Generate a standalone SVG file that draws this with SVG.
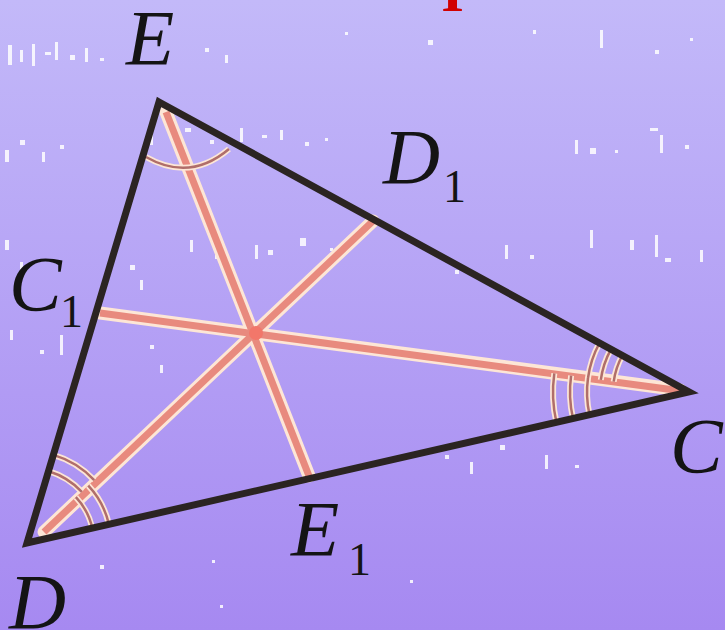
<svg xmlns="http://www.w3.org/2000/svg" width="725" height="630" viewBox="0 0 725 630">
<defs>
<linearGradient id="bg" x1="0" y1="0" x2="0" y2="1">
<stop offset="0" stop-color="#c3b9f9"/>
<stop offset="1" stop-color="#a689f1"/>
</linearGradient>
<style>
.side{stroke:#2b2422;stroke-width:7;fill:none;stroke-linejoin:miter;stroke-linecap:round}
.halo{stroke:#fde6d6;stroke-width:13;fill:none;stroke-linecap:round}
.bis{stroke:#e88a7e;stroke-width:7;fill:none;stroke-linecap:butt}
.archalo{stroke:#fde6d6;stroke-width:6;fill:none}
.arc{stroke:#b06e6a;stroke-width:2.5;fill:none}
.lab{font-family:"Liberation Serif","DejaVu Serif",serif;font-style:italic;fill:#141414;font-size:79px}
.sub{font-family:"Liberation Serif","DejaVu Serif",serif;fill:#141414;font-size:46px}
</style>
</defs>
<rect width="725" height="630" fill="url(#bg)"/>
<g id="specks" fill="#ffffff" opacity="0.85">
<rect x="8" y="45" width="4" height="20"/><rect x="20" y="50" width="3" height="12"/><rect x="32" y="44" width="3" height="22"/><rect x="45" y="52" width="6" height="3"/><rect x="55" y="42" width="3" height="18"/><rect x="70" y="55" width="5" height="5"/><rect x="85" y="48" width="3" height="14"/><rect x="100" y="58" width="4" height="3"/>
<rect x="205" y="48" width="4" height="4"/><rect x="225" y="55" width="3" height="8"/><rect x="345" y="32" width="3" height="3"/><rect x="428" y="40" width="5" height="5"/><rect x="533" y="30" width="3" height="4"/><rect x="600" y="30" width="3" height="18"/><rect x="655" y="50" width="4" height="4"/><rect x="690" y="38" width="3" height="3"/>
<rect x="5" y="150" width="4" height="12"/><rect x="20" y="140" width="5" height="5"/><rect x="42" y="152" width="3" height="10"/><rect x="60" y="145" width="4" height="4"/><rect x="150" y="133" width="3" height="12"/><rect x="185" y="128" width="6" height="4"/><rect x="210" y="140" width="4" height="4"/><rect x="240" y="128" width="3" height="14"/><rect x="262" y="135" width="5" height="3"/><rect x="280" y="130" width="3" height="10"/><rect x="305" y="142" width="4" height="4"/><rect x="325" y="138" width="3" height="3"/>
<rect x="575" y="140" width="3" height="14"/><rect x="590" y="148" width="6" height="6"/><rect x="615" y="150" width="3" height="3"/><rect x="650" y="128" width="8" height="3"/><rect x="660" y="135" width="3" height="18"/><rect x="685" y="145" width="4" height="4"/>
<rect x="5" y="240" width="4" height="10"/><rect x="20" y="262" width="3" height="8"/><rect x="130" y="265" width="5" height="5"/><rect x="140" y="280" width="3" height="10"/><rect x="190" y="240" width="3" height="12"/><rect x="215" y="255" width="4" height="4"/><rect x="255" y="245" width="3" height="14"/><rect x="268" y="250" width="5" height="5"/><rect x="300" y="238" width="6" height="8"/><rect x="330" y="248" width="3" height="3"/>
<rect x="455" y="270" width="4" height="4"/><rect x="505" y="245" width="3" height="14"/><rect x="530" y="255" width="4" height="4"/><rect x="590" y="230" width="3" height="18"/><rect x="630" y="240" width="4" height="10"/><rect x="655" y="235" width="3" height="22"/><rect x="665" y="258" width="6" height="4"/><rect x="700" y="250" width="3" height="12"/>
<rect x="10" y="330" width="3" height="10"/><rect x="40" y="350" width="4" height="4"/><rect x="60" y="335" width="3" height="20"/><rect x="150" y="345" width="4" height="4"/><rect x="160" y="365" width="3" height="8"/>
<rect x="445" y="455" width="4" height="4"/><rect x="470" y="462" width="3" height="12"/><rect x="500" y="445" width="5" height="5"/><rect x="545" y="455" width="3" height="14"/><rect x="575" y="465" width="4" height="3"/><rect x="220" y="605" width="3" height="3"/><rect x="212" y="560" width="3" height="3"/><rect x="100" y="565" width="4" height="4"/><rect x="410" y="580" width="3" height="3"/>
</g>
<text x="452.5" y="11" text-anchor="middle" font-family="Liberation Serif, serif" font-weight="bold" font-size="58" fill="#d10000">I</text>
<g id="connectors">
<line class="halo" x1="166" y1="112" x2="309" y2="476"/>
<line class="halo" x1="44" y1="532" x2="373" y2="221"/>
<line class="halo" x1="680" y1="390" x2="100" y2="313"/>
<line class="bis" x1="166" y1="112" x2="309" y2="476"/>
<line class="bis" x1="44" y1="532" x2="373" y2="221"/>
<line class="bis" x1="682" y1="391" x2="100" y2="313"/>
<circle cx="256" cy="333" r="7" fill="#f2776a"/>
<g id="angle-marks">
<path class="archalo" d="M146,157 Q190,182 229,149"/>
<path class="arc" d="M146,157 Q190,182 229,149"/>
<path class="archalo" d="M48.6,471.2 A75,75 0 0 1 81.8,491.8 M53.4,454.9 A92,92 0 0 1 94.2,480.1 M75.9,497.2 A67,67 0 0 1 92.3,528.1 M88.3,485.6 A84,84 0 0 1 108.9,524.3"/>
<path class="arc" d="M48.6,471.2 A75,75 0 0 1 81.8,491.8 M53.4,454.9 A92,92 0 0 1 94.2,480.1 M75.9,497.2 A67,67 0 0 1 92.3,528.1 M88.3,485.6 A84,84 0 0 1 108.9,524.3"/>
<path class="archalo" d="M613.7,381.6 A76,76 0 0 1 622.3,355.5 M600.8,379.8 A89,89 0 0 1 610.9,349.3 M588,378 A102,102 0 0 1 599.5,343 M589.5,414.7 A102,102 0 0 1 588,378 M573,418.5 A119,119 0 0 1 571.1,375.6 M556.4,422.2 A136,136 0 0 1 554.3,373.3"/>
<path class="arc" d="M613.7,381.6 A76,76 0 0 1 622.3,355.5 M600.8,379.8 A89,89 0 0 1 610.9,349.3 M588,378 A102,102 0 0 1 599.5,343 M589.5,414.7 A102,102 0 0 1 588,378 M573,418.5 A119,119 0 0 1 571.1,375.6 M556.4,422.2 A136,136 0 0 1 554.3,373.3"/>
</g>
</g>
<g id="triangle">
<polygon class="side" points="159,102 689,392 27,543"/>
</g>
<g id="label-E"><text class="lab" x="126" y="64">E</text></g>
<g id="label-D1"><text class="lab" x="383" y="183">D</text><text class="sub" x="443" y="202">1</text></g>
<g id="label-C1"><text class="lab" x="9" y="310">C</text><text class="sub" x="60" y="327">1</text></g>
<g id="label-E1"><text class="lab" x="291" y="555">E</text><text class="sub" x="348" y="575">1</text></g>
<g id="label-C"><text class="lab" x="670" y="472">C</text></g>
<g id="label-D"><text class="lab" x="9" y="628">D</text></g>
</svg>
